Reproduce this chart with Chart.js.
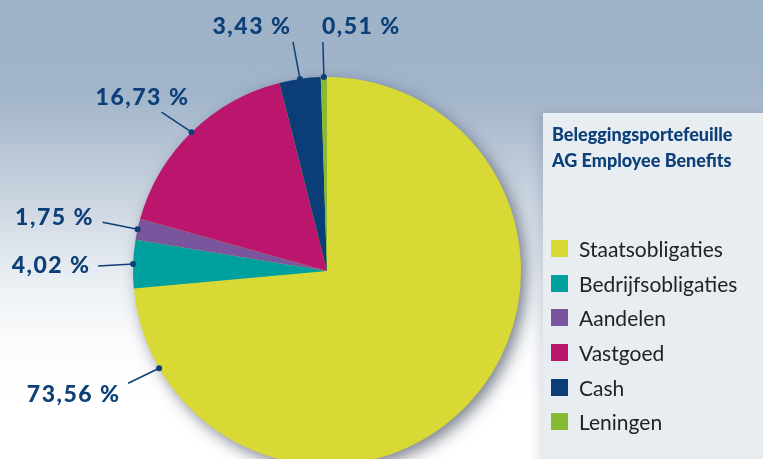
<!DOCTYPE html>
<html>
<head>
<meta charset="utf-8">
<script src="https://cdn.jsdelivr.net/npm/chart.js@4"></script>
<style>
    html, body { margin: 0; padding: 0; width: 763px; height: 459px; overflow: hidden; }
    body {
        position: relative;
        background: linear-gradient(to bottom, #9eb2c8 0px, #a1b4c9 90px, #bfcbd9 170px, #dbe2ea 240px, #eef2f6 290px, #fafbfc 340px, #ffffff 400px);
        font-family: Lato, "DejaVu Sans", sans-serif;
    }
    #grafico { position: absolute; left: 0; top: 0; }
    #panel {
        position: absolute; left: 543px; top: 113px; width: 240px; height: 380px;
        background: #e8edf2;
        box-shadow: -4px 0 10px rgba(60, 80, 110, 0.18);
    }
    #panel h3 {
        margin: 0; position: absolute; left: 9px; top: 8px;
        font-size: 18px; line-height: 26px; font-weight: 900; color: #0d3f78;
        white-space: nowrap;
    }
    #legend { position: absolute; left: 8px; top: 118px; margin: 0; padding: 0; list-style: none; }
    #legend li { height: 34.7px; display: flex; align-items: center; font-size: 21px; color: #222; white-space: nowrap; }
    #legend span { display: inline-block; width: 17px; height: 17px; margin-right: 11px; }
</style>
</head>
<body>
<canvas id="grafico" width="763" height="480"></canvas>
<div id="panel">
    <h3>Beleggingsportefeuille<br>AG Employee Benefits</h3>
    <ul id="legend"></ul>
</div>
<script>
const categorias = ['Staatsobligaties', 'Bedrijfsobligaties', 'Aandelen', 'Vastgoed', 'Cash', 'Leningen'];
const porcentajes = [73.56, 4.02, 1.75, 16.73, 3.43, 0.51];
const etiquetas = ['73,56 %', '4,02 %', '1,75 %', '16,73 %', '3,43 %', '0,51 %'];
const colores = ['#d9d936', '#00a09f', '#7a559e', '#bb166e', '#0b3e78', '#86bb33'];

// posicion de cada etiqueta: fraccion dentro del sector, fin de la linea y texto (relativos al punto)
const llamadas = [
    { frac: 0.906, lx: -31, ly: 15, tx: -40, ty: 26, align: 'right' },
    { frac: 0.5, lx: -35, ly: 2, tx: -44, ty: 2, align: 'right' },
    { frac: 0.5, lx: -35, ly: -7, tx: -45, ty: -12, align: 'right' },
    { frac: 0.5, lx: -30, ly: -20, tx: -49, ty: -35, align: 'center' },
    { frac: 0.5, lx: -7, ly: -37, tx: -10, ty: -52, align: 'right' },
    { frac: 0.5, lx: -1, ly: -35, tx: -2, ty: -50, align: 'left' }
];

document.addEventListener('DOMContentLoaded', function() {
    const sombra = {
        id: 'sombra',
        beforeDatasetsDraw(chart) {
            const arc = chart.getDatasetMeta(0).data[0];
            const ctx = chart.ctx;
            ctx.save();
            ctx.shadowColor = 'rgba(30, 40, 60, 0.6)';
            ctx.shadowBlur = 16;
            ctx.shadowOffsetX = 5;
            ctx.shadowOffsetY = 6;
            ctx.fillStyle = '#d9d936';
            ctx.beginPath();
            ctx.arc(arc.x, arc.y, arc.outerRadius - 1, 0, Math.PI * 2);
            ctx.fill();
            ctx.restore();
        }
    };

    const etiquetasPlugin = {
        id: 'etiquetas',
        afterDatasetsDraw(chart) {
            const ctx = chart.ctx;
            const arcs = chart.getDatasetMeta(0).data;
            ctx.save();
            arcs.forEach((arc, i) => {
                const c = llamadas[i];
                const a = arc.startAngle + (arc.endAngle - arc.startAngle) * c.frac;
                const px = arc.x + arc.outerRadius * Math.cos(a);
                const py = arc.y + arc.outerRadius * Math.sin(a);
                ctx.strokeStyle = '#0d3f78';
                ctx.fillStyle = '#0d3f78';
                ctx.lineWidth = 1.5;
                ctx.beginPath();
                ctx.moveTo(px, py);
                ctx.lineTo(px + c.lx, py + c.ly);
                ctx.stroke();
                ctx.beginPath();
                ctx.arc(px, py, 3, 0, Math.PI * 2);
                ctx.fill();
                ctx.font = '900 23px Lato, "DejaVu Sans", sans-serif';
                ctx.letterSpacing = '1.5px';
                ctx.textAlign = c.align;
                ctx.textBaseline = 'middle';
                ctx.fillText(etiquetas[i], px + c.tx + (c.align === 'right' ? 1.5 : 0), py + c.ty);
                ctx.letterSpacing = '0px';
            });
            ctx.restore();
        }
    };

    new Chart(document.getElementById('grafico').getContext('2d'), {
        type: 'pie',
        data: {
            labels: categorias,
            datasets: [{
                data: porcentajes,
                backgroundColor: colores,
                borderWidth: 0
            }]
        },
        options: {
            responsive: false,
            animation: false,
            layout: { padding: { top: 77, bottom: 15, left: 133, right: 242 } },
            plugins: {
                legend: { display: false },
                tooltip: { enabled: false }
            }
        },
        plugins: [sombra, etiquetasPlugin]
    });

    // leyenda en el panel
    const ul = document.getElementById('legend');
    categorias.forEach((nombre, i) => {
        const li = document.createElement('li');
        const sw = document.createElement('span');
        sw.style.background = colores[i];
        li.appendChild(sw);
        li.appendChild(document.createTextNode(nombre));
        ul.appendChild(li);
    });
});
</script>
</body>
</html>
